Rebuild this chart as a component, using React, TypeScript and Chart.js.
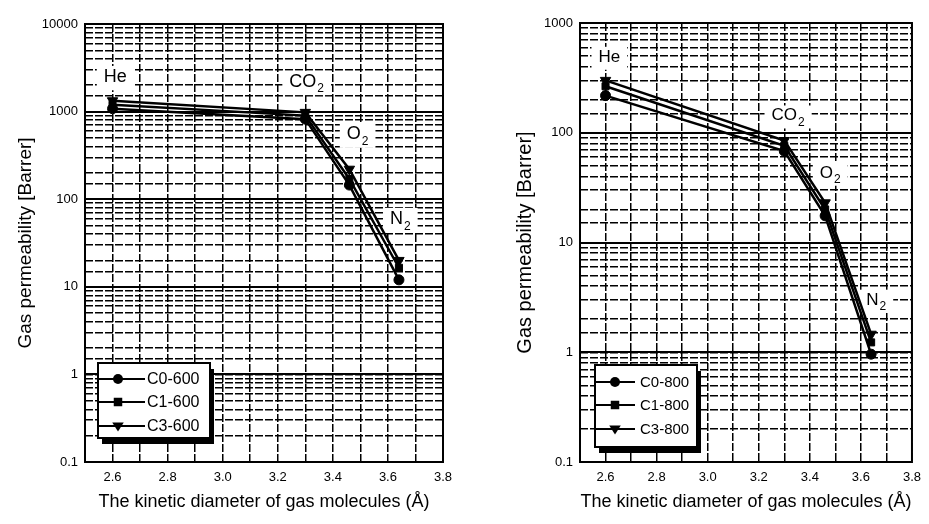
import React, { useEffect, useRef } from 'react';
import { Chart, registerables } from 'chart.js';

Chart.register(...registerables);
Chart.defaults.font.family = '"Liberation Sans", Arial, sans-serif';
Chart.defaults.color = '#000';

// ---- data ----
const kineticDiameter = [2.6, 3.3, 3.46, 3.64];
const gasNames = ['He', 'CO2', 'O2', 'N2'];

const c0_600 = [1080, 820, 145, 12];
const c1_600 = [1200, 900, 170, 16.5];
const c3_600 = [1330, 980, 220, 20];

const c0_800 = [218, 68, 17.5, 0.96];
const c1_800 = [265, 76, 20, 1.23];
const c3_800 = [300, 85, 23, 1.46];

const seriesNames600 = ['C0-600', 'C1-600', 'C3-600'];
const seriesNames800 = ['C0-800', 'C1-800', 'C3-800'];

const yDecades600 = [0.1, 1, 10, 100, 1000, 10000];
const yDecades800 = [0.1, 1, 10, 100, 1000];
const xTickLabels = ['2.6', '2.8', '3.0', '3.2', '3.4', '3.6', '3.8'];

// gas label anchors in data units
const labelX600 = [2.61, 3.305, 3.49, 3.645];
const labelY600 = [2500, 2200, 550, 60];
const labelX800 = [2.615, 3.315, 3.48, 3.66];
const labelY800 = [490, 143, 43, 3.0];

const X_TITLE = 'The kinetic diameter of gas molecules (Å)';
const Y_TITLE = 'Gas permeability [Barrer]';

const markerStyles = ['circle', 'rect', 'triangle'];

function drawMarker(ctx: CanvasRenderingContext2D, style: string, x: number, y: number, r: number) {
  ctx.beginPath();
  if (style === 'circle') {
    ctx.arc(x, y, r, 0, Math.PI * 2);
  } else if (style === 'rect') {
    ctx.rect(x - r * 0.85, y - r * 0.85, r * 1.7, r * 1.7);
  } else {
    ctx.moveTo(x - r * 1.15, y - r * 0.7);
    ctx.lineTo(x + r * 1.15, y - r * 0.7);
    ctx.lineTo(x, y + r * 1.1);
    ctx.closePath();
  }
  ctx.fill();
}

type PanelCfg = {
  series: number[][];
  names: string[];
  decades: number[];
  labelX: number[];
  labelY: number[];
  labelFont: number;
  yTitleFont: number;
  padding: { left: number; right: number; top: number; bottom: number };
  yWidth: number;
  xHeight: number;
  legend: { dx: number; dy: number; w: number; h: number; rows: number[]; lineEnd: number; marker: number; text: number; font: number };
};

function makePlugin(cfg: PanelCfg) {
  return {
    id: 'panelDecor',
    beforeDatasetsDraw(chart: any) {
      const { ctx, chartArea: a, scales } = chart;
      const x = scales.x;
      const y = scales.y;
      ctx.save();
      // decade lines (thick)
      ctx.strokeStyle = '#000';
      ctx.lineWidth = 2;
      ctx.setLineDash([]);
      for (const d of cfg.decades) {
        const py = Math.round(y.getPixelForValue(d));
        ctx.beginPath();
        ctx.moveTo(a.left, py);
        ctx.lineTo(a.right, py);
        ctx.stroke();
      }
      // gas labels with white background
      const fs = cfg.labelFont;
      const subFs = Math.round(fs * 0.68);
      for (let i = 0; i < gasNames.length; i++) {
        const name = gasNames[i];
        const m = name.match(/^(.*?)(\d*)$/);
        const main = m ? m[1] : name;
        const sub = m ? m[2] : '';
        const cx = x.getPixelForValue(cfg.labelX[i]);
        const cy = y.getPixelForValue(cfg.labelY[i]);
        ctx.font = `${fs}px "Liberation Sans", Arial, sans-serif`;
        const wMain = ctx.measureText(main).width;
        ctx.font = `${subFs}px "Liberation Sans", Arial, sans-serif`;
        const wSub = sub ? ctx.measureText(sub).width + 1 : 0;
        const w = wMain + wSub;
        const left = cx - w / 2;
        ctx.fillStyle = '#fff';
        ctx.fillRect(left - 7, cy - fs * 0.6, w + 14, fs * 1.35);
        ctx.fillStyle = '#000';
        ctx.textBaseline = 'middle';
        ctx.textAlign = 'left';
        ctx.font = `${fs}px "Liberation Sans", Arial, sans-serif`;
        ctx.fillText(main, left, cy);
        if (sub) {
          ctx.font = `${subFs}px "Liberation Sans", Arial, sans-serif`;
          ctx.fillText(sub, left + wMain + 1, cy + fs * 0.42);
        }
      }
      ctx.restore();
    },
    afterDatasetsDraw(chart: any) {
      const { ctx, chartArea: a } = chart;
      const L = cfg.legend;
      ctx.save();
      ctx.setLineDash([]);
      const bx = a.left + L.dx;
      const by = a.bottom - L.dy - L.h;
      // shadow
      ctx.fillStyle = '#000';
      ctx.fillRect(bx + 4, by + 6, L.w, L.h);
      ctx.fillStyle = '#fff';
      ctx.fillRect(bx, by, L.w, L.h);
      ctx.strokeStyle = '#000';
      ctx.lineWidth = 2;
      ctx.strokeRect(bx, by, L.w, L.h);
      ctx.font = `${L.font}px "Liberation Sans", Arial, sans-serif`;
      ctx.textBaseline = 'middle';
      ctx.textAlign = 'left';
      for (let i = 0; i < cfg.names.length; i++) {
        const ry = by + L.rows[i];
        ctx.beginPath();
        ctx.moveTo(bx + 1, ry);
        ctx.lineTo(bx + L.lineEnd, ry);
        ctx.lineWidth = 2;
        ctx.stroke();
        ctx.fillStyle = '#000';
        drawMarker(ctx, markerStyles[i], bx + L.marker, ry, 5);
        ctx.fillText(cfg.names[i], bx + L.text, ry + 1);
      }
      // frame
      ctx.lineWidth = 2;
      ctx.strokeRect(a.left, a.top, a.right - a.left, a.bottom - a.top);
      ctx.restore();
    },
  };
}

function buildChart(canvas: HTMLCanvasElement, cfg: PanelCfg) {
  const datasets = cfg.series.map((vals, i) => ({
    label: cfg.names[i],
    data: vals.map((v, j) => ({ x: kineticDiameter[j], y: v })),
    borderColor: '#000',
    backgroundColor: '#000',
    borderWidth: 2.5,
    pointStyle: markerStyles[i] as any,
    pointRotation: i === 2 ? 180 : 0,
    pointRadius: i === 2 ? 6 : 5,
    pointBorderWidth: 1,
    tension: 0,
  }));
  const yMin = cfg.decades[0];
  const yMax = cfg.decades[cfg.decades.length - 1];
  return new Chart(canvas, {
    type: 'line',
    data: { datasets },
    plugins: [makePlugin(cfg)],
    options: {
      animation: false,
      responsive: false,
      devicePixelRatio: 1,
      layout: { padding: cfg.padding },
      plugins: { legend: { display: false }, tooltip: { enabled: false } },
      scales: {
        x: {
          type: 'linear',
          min: 2.5,
          max: 3.8,
          afterFit: (s: any) => { s.height = cfg.xHeight; },
          ticks: {
            stepSize: 0.1,
            autoSkip: false,
            maxRotation: 0,
            padding: 8,
            font: { size: 13 },
            callback: (value: any) => {
              const lbl = (Math.round(Number(value) * 10) / 10).toFixed(1);
              return xTickLabels.includes(lbl) ? lbl : '';
            },
          },
          grid: { color: '#000', lineWidth: 1.5, drawTicks: false },
          border: { display: false, dash: [8, 2] },
          title: { display: true, text: X_TITLE, font: { size: 18 }, padding: 0 },
        },
        y: {
          type: 'logarithmic',
          min: yMin,
          max: yMax,
          afterFit: (s: any) => { s.width = cfg.yWidth; },
          ticks: {
            autoSkip: false,
            padding: 7,
            font: { size: 13 },
            callback: (value: any) => {
              const v = Number(value);
              const hit = cfg.decades.find((d) => Math.abs(d - v) / d < 1e-6);
              return hit !== undefined ? String(hit) : '';
            },
          },
          grid: { color: '#000', lineWidth: 1.5, drawTicks: false },
          border: { display: false, dash: [8, 2] },
          title: { display: true, text: Y_TITLE, font: { size: cfg.yTitleFont }, padding: 0 },
        },
      },
    } as any,
  });
}

export default function App() {
  const leftRef = useRef<HTMLCanvasElement>(null);
  const rightRef = useRef<HTMLCanvasElement>(null);

  useEffect(() => {
    const left = buildChart(leftRef.current!, {
      series: [c0_600, c1_600, c3_600],
      names: seriesNames600,
      decades: yDecades600,
      labelX: labelX600,
      labelY: labelY600,
      labelFont: 18,
      yTitleFont: 19,
      padding: { left: 14, right: 22, top: 24, bottom: 11 },
      yWidth: 71,
      xHeight: 51,
      legend: { dx: 13, dy: 24, w: 112, h: 75, rows: [16, 39, 63], lineEnd: 47, marker: 20, text: 49, font: 16 },
    });
    const right = buildChart(rightRef.current!, {
      series: [c0_800, c1_800, c3_800],
      names: seriesNames800,
      decades: yDecades800,
      labelX: labelX800,
      labelY: labelY800,
      labelFont: 17,
      yTitleFont: 20,
      padding: { left: 48, right: 9, top: 23, bottom: 11 },
      yWidth: 67,
      xHeight: 51,
      legend: { dx: 15, dy: 15, w: 102, h: 82, rows: [17, 40, 64], lineEnd: 40, marker: 20, text: 45, font: 15 },
    });
    return () => {
      left.destroy();
      right.destroy();
    };
  }, []);

  return (
    <div style={{ position: 'fixed', left: 0, top: 0, width: 929, height: 524, background: '#fff' }}>
      <canvas ref={leftRef} width={465} height={524} style={{ position: 'absolute', left: 0, top: 0, width: 465, height: 524 }} />
      <canvas ref={rightRef} width={464} height={524} style={{ position: 'absolute', left: 465, top: 0, width: 464, height: 524 }} />
    </div>
  );
}
